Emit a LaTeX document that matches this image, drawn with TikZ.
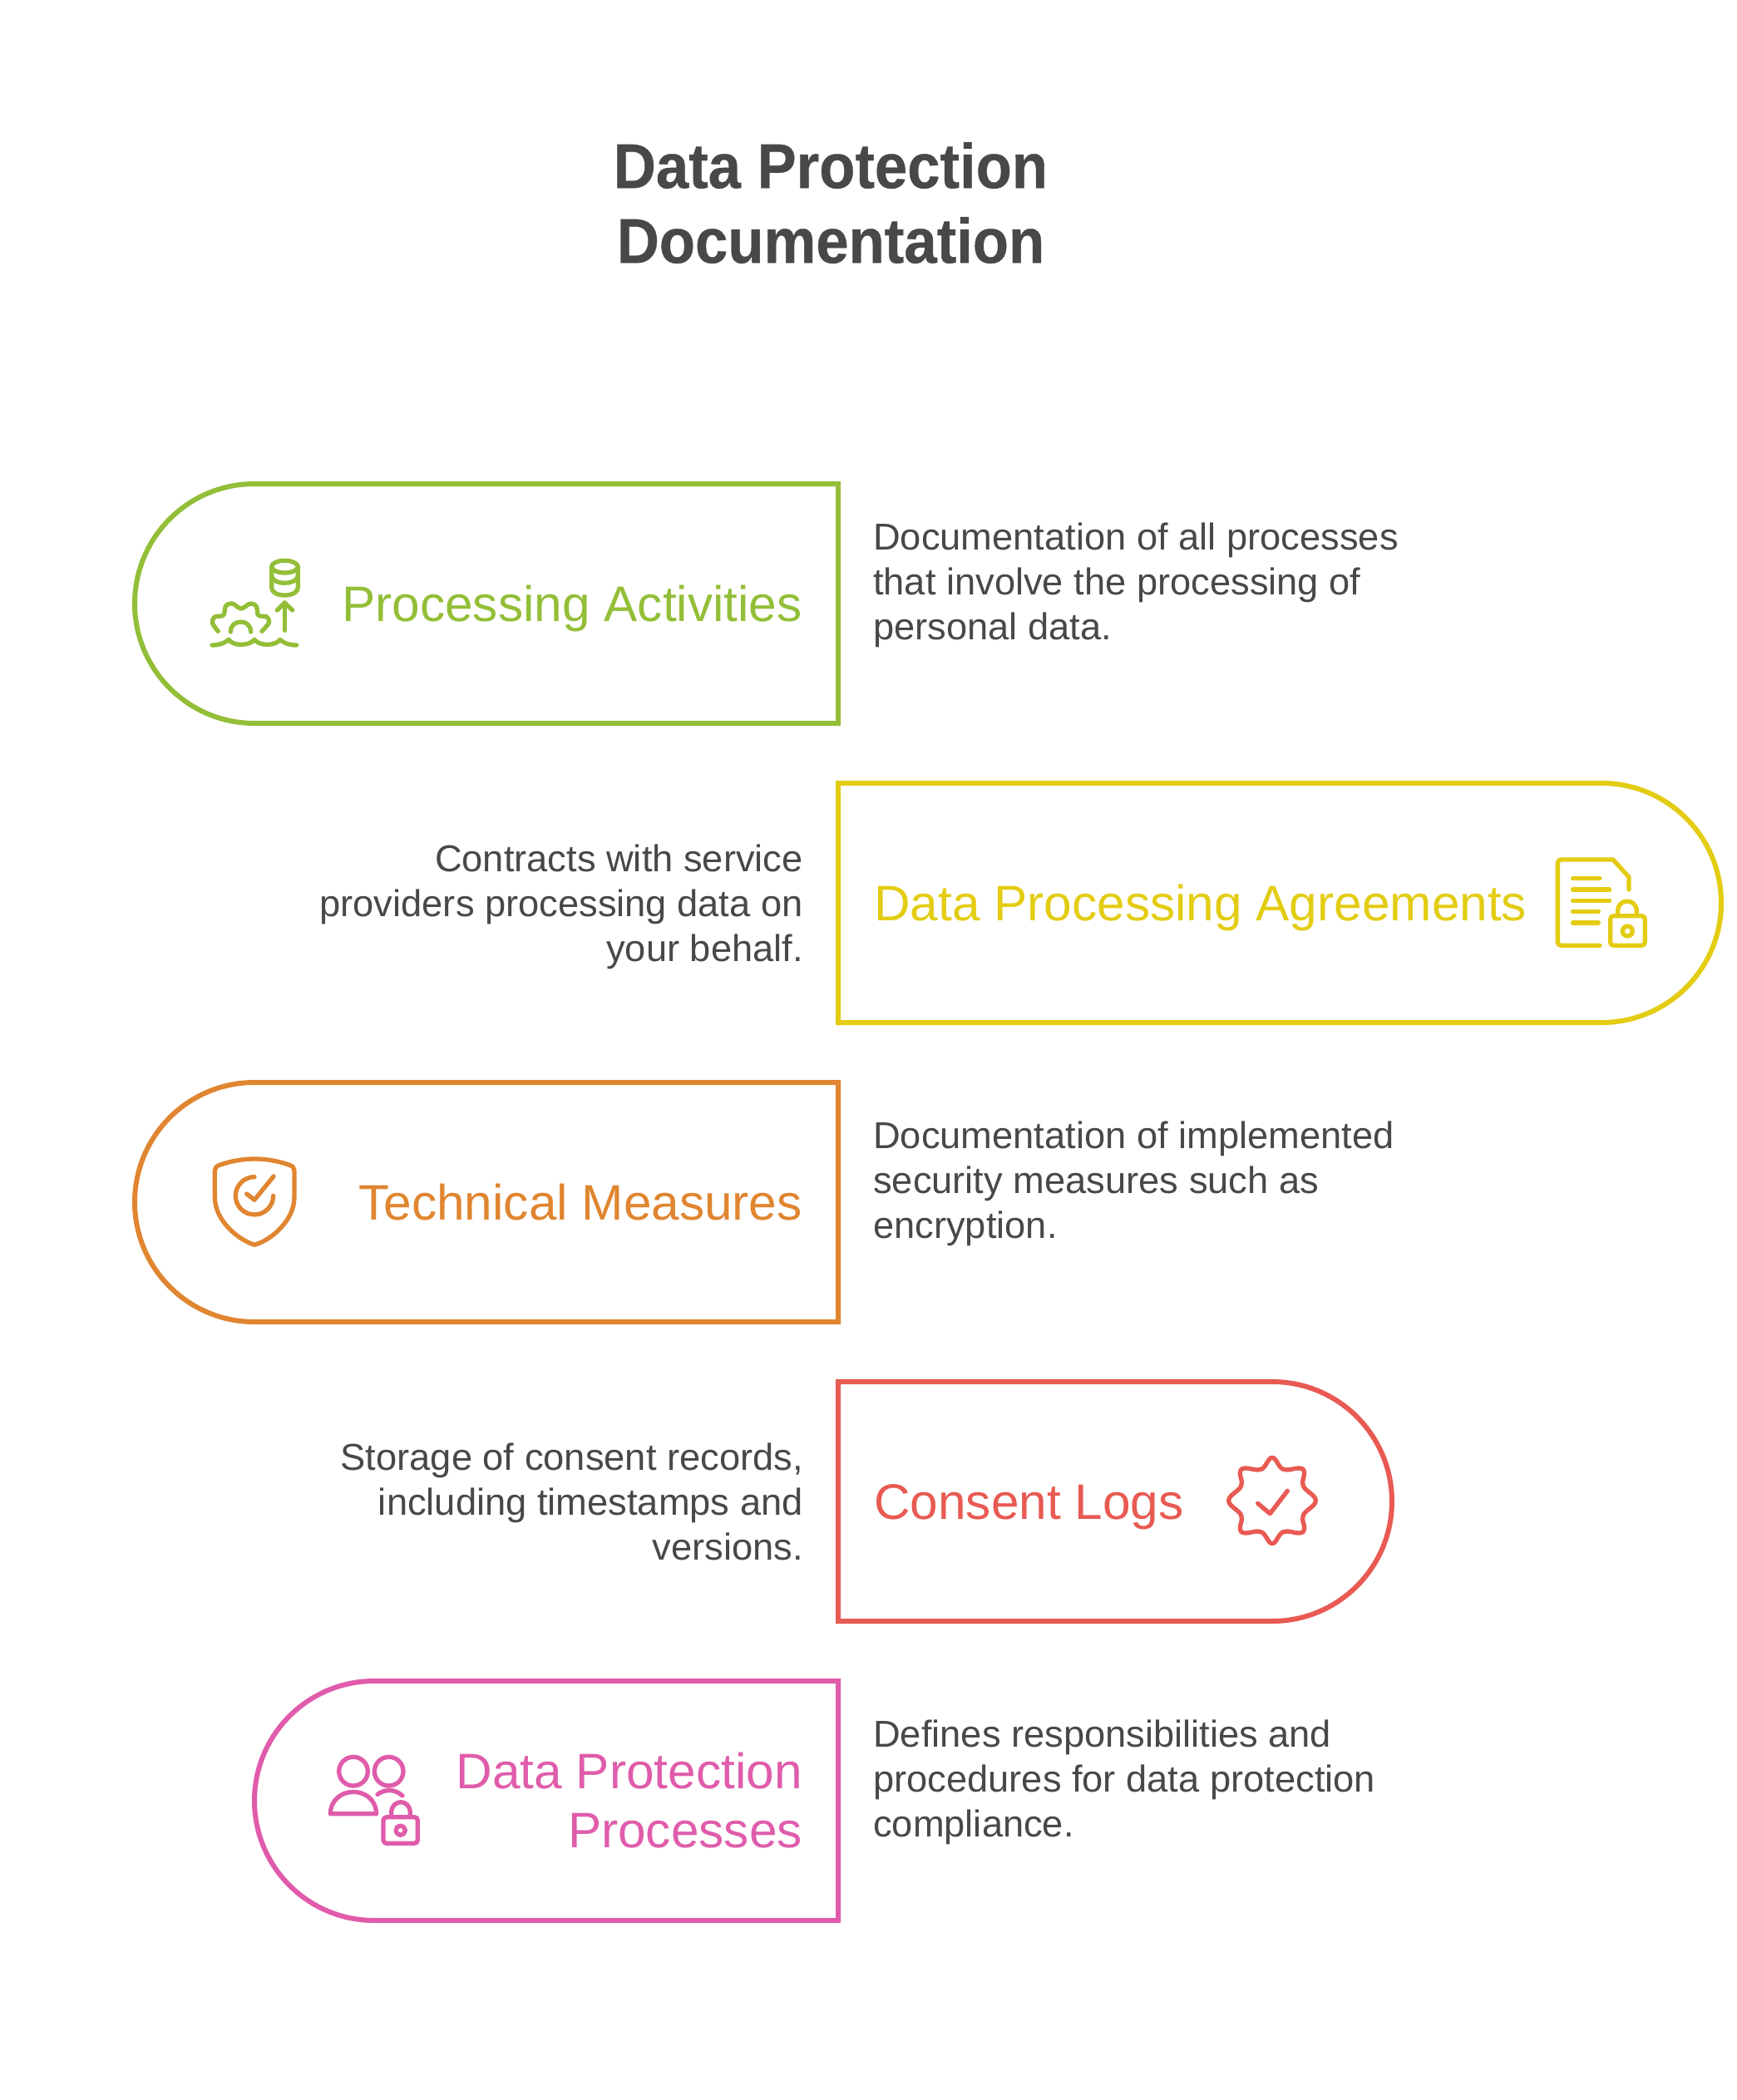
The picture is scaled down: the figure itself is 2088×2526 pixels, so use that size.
\documentclass[tikz,border=0pt]{standalone}
\usepackage{fontspec}
\setmainfont{Liberation Sans}
\newfontfamily\bodyfont[FakeStretch=1.006]{Liberation Sans}
\newfontfamily\titlefont[FakeStretch=0.93,BoldFeatures={FakeBold=0.5}]{Liberation Sans}
\definecolor{ink}{HTML}{484848}
\definecolor{cgreen}{HTML}{93BE37}
\definecolor{cyellow}{HTML}{E3CC12}
\definecolor{corange}{HTML}{E08530}
\definecolor{cred}{HTML}{E85A52}
\definecolor{cpink}{HTML}{E05CAB}
\tikzset{
  pill/.style={line width=6pt,miter limit=10,line join=miter},
  titlenode/.style={align=center,text=ink,inner sep=0pt,font=\titlefont\bfseries\fontsize{76}{90}\selectfont},
  labelnode/.style={inner sep=0pt,font=\bodyfont\fontsize{60}{71}\selectfont},
  descleft/.style={inner sep=0pt,anchor=west,align=left,text=ink,font=\bodyfont\fontsize{45}{54}\selectfont},
  descright/.style={inner sep=0pt,anchor=east,align=right,text=ink,font=\bodyfont\fontsize{45}{54}\selectfont},
  iconline/.style={line width=5.3pt,line cap=round,line join=round},
  iconat/.style={shift={#1},x=.3333pt,y=-.3333pt},
}
\begin{document}
\begin{tikzpicture}[x=1pt,y=-1pt]
\useasboundingbox (0,0) rectangle (2088,2526);
\fill[white] (0,0) rectangle (2088,2526);
\node[titlenode] (title) at (999,244) {Data Protection\\Documentation};

% pills
\draw[pill,cgreen] (1008,582) [rounded corners=144pt] -- (162,582) -- (162,870) [sharp corners] -- (1008,870) -- cycle;
\draw[pill,cyellow] (1008,942) [rounded corners=144pt] -- (2070,942) -- (2070,1230) [sharp corners] -- (1008,1230) -- cycle;
\draw[pill,corange] (1008,1302) [rounded corners=144pt] -- (162,1302) -- (162,1590) [sharp corners] -- (1008,1590) -- cycle;
\draw[pill,cred] (1008,1662) [rounded corners=144pt] -- (1674,1662) -- (1674,1950) [sharp corners] -- (1008,1950) -- cycle;
\draw[pill,cpink] (1008,2022) [rounded corners=144pt] -- (306,2022) -- (306,2310) [sharp corners] -- (1008,2310) -- cycle;

% labels
\node[labelnode,text=cgreen,anchor=base east] (l1) at (965,747) {Processing Activities};
\node[labelnode,text=cyellow,anchor=base west] (l2) at (1051,1107) {Data Processing Agreements};
\node[labelnode,text=corange,anchor=base east] (l3) at (965,1467) {Technical Measures};
\node[labelnode,text=cred,anchor=base west] (l4) at (1051,1827) {Consent Logs};
\node[labelnode,text=cpink,anchor=east,align=right] (l5) at (965,2166) {Data Protection\\Processes};

% descriptions
\node[descleft] (d1) at (1050,704) {Documentation of all processes\\that involve the processing of\\personal data.};
\node[descright] (d2) at (966,1091) {Contracts with service\\providers processing data on\\your behalf.};
\node[descleft] (d3) at (1050,1424) {Documentation of implemented\\security measures such as\\encryption.};
\node[descright] (d4) at (966,1806) {Storage of consent records,\\including timestamps and\\versions.};
\node[descleft] (d5) at (1050,2144) {Defines responsibilities and\\procedures for data protection\\compliance.};

% icon 1: gear, water, arrow, database
\begin{scope}[iconat={(220,640)},iconline,cgreen]
  \draw (367,103) .. controls (393,103) and (415,113) .. (415,125) .. controls (415,137) and (393,147) .. (367,147) .. controls (341,147) and (320,137) .. (320,125) .. controls (320,113) and (341,103) .. (367,103) -- cycle;
  \draw (320,125) -- (320,200) .. controls (320,218) and (341,228) .. (367,228) .. controls (393,228) and (415,218) .. (415,200) -- (415,125);
  \draw (320,160) .. controls (325,176) and (345,184) .. (367,184) .. controls (389,184) and (410,176) .. (415,160);
  \draw (367,355) -- (367,255);
  \draw (340,282) -- (367,255) -- (395,282);
  \draw plot[smooth,tension=.55] coordinates {(127,358) (106,328) (115,306) (146,300) (155,266) (178,258) (210,276) (243,258) (265,268) (272,300) (302,306) (311,326) (285,358)};
  \draw (172,360) .. controls (172,312) and (245,312) .. (245,360);
  \draw (105,408) .. controls (130,408) and (150,402) .. (165,388) .. controls (180,412) and (240,412) .. (258,388) .. controls (275,412) and (335,412) .. (350,388) .. controls (365,402) and (385,408) .. (410,408);
\end{scope}

% icon 2: document with lock
\begin{scope}[iconat={(1840,1010)},iconline,cyellow]
  \draw (357,180) -- (357,135) -- (300,72) [rounded corners=4pt] -- (100,72) -- (100,382) [sharp corners] -- (252,382);
  \draw (155,140) -- (252,140);
  \draw (155,180) -- (287,180);
  \draw (155,220) -- (287,220);
  \draw (155,260) -- (247,260);
  \draw (155,300) -- (247,300);
  \draw[rounded corners=4pt] (290,275) rectangle (415,382);
  \draw (317,272) -- (317,258) .. controls (317,210) and (385,210) .. (385,258) -- (385,272);
  \draw (352,330) circle [radius=18];
\end{scope}

% icon 3: shield with check
\begin{scope}[iconat={(230,1370)},iconline,corange]
  \draw (229,72) .. controls (180,72) and (135,82) .. (100,95) .. controls (90,99) and (85,106) .. (85,115) -- (85,210) .. controls (85,295) and (170,365) .. (229,382) .. controls (288,365) and (372,295) .. (372,210) -- (372,115) .. controls (372,106) and (367,99) .. (357,95) .. controls (322,82) and (278,72) .. (229,72) -- cycle;
  \draw (228,137) .. controls (190.4,137) and (160,167.4) .. (160,205) .. controls (160,242.6) and (190.4,273) .. (228,273) .. controls (265.6,273) and (296,242.6) .. (296,205);
  \draw (200,198) -- (228,220) -- (297,135);
\end{scope}

% icon 4: badge with check
\begin{scope}[iconat={(1450,1730)},iconline,cred]
  \draw plot[smooth cycle,tension=.7] coordinates {(240,70) (280,112) (338,108) (356,124) (352,172) (397,225) (352,278) (356,326) (338,342) (280,338) (240,380) (200,338) (142,342) (124,326) (128,278) (83,225) (128,172) (124,124) (142,108) (200,112)};
  \draw (188,235) -- (232,272) -- (295,190);
\end{scope}

% icon 5: two people with lock
\begin{scope}[iconat={(380,2090)},iconline,cpink]
  \draw (135,122) circle [radius=52];
  \draw (263,122) circle [radius=52];
  \draw (52,275) .. controls (55,170) and (215,170) .. (218,275) -- cycle;
  \draw (222,205) .. controls (250,185) and (285,185) .. (312,210);
  \draw[rounded corners=4pt] (243,287) rectangle (367,382);
  \draw (272,285) -- (272,272) .. controls (272,220) and (340,220) .. (340,272) -- (340,285);
  \draw (305,335) circle [radius=17];
\end{scope}
\end{tikzpicture}
\end{document}
